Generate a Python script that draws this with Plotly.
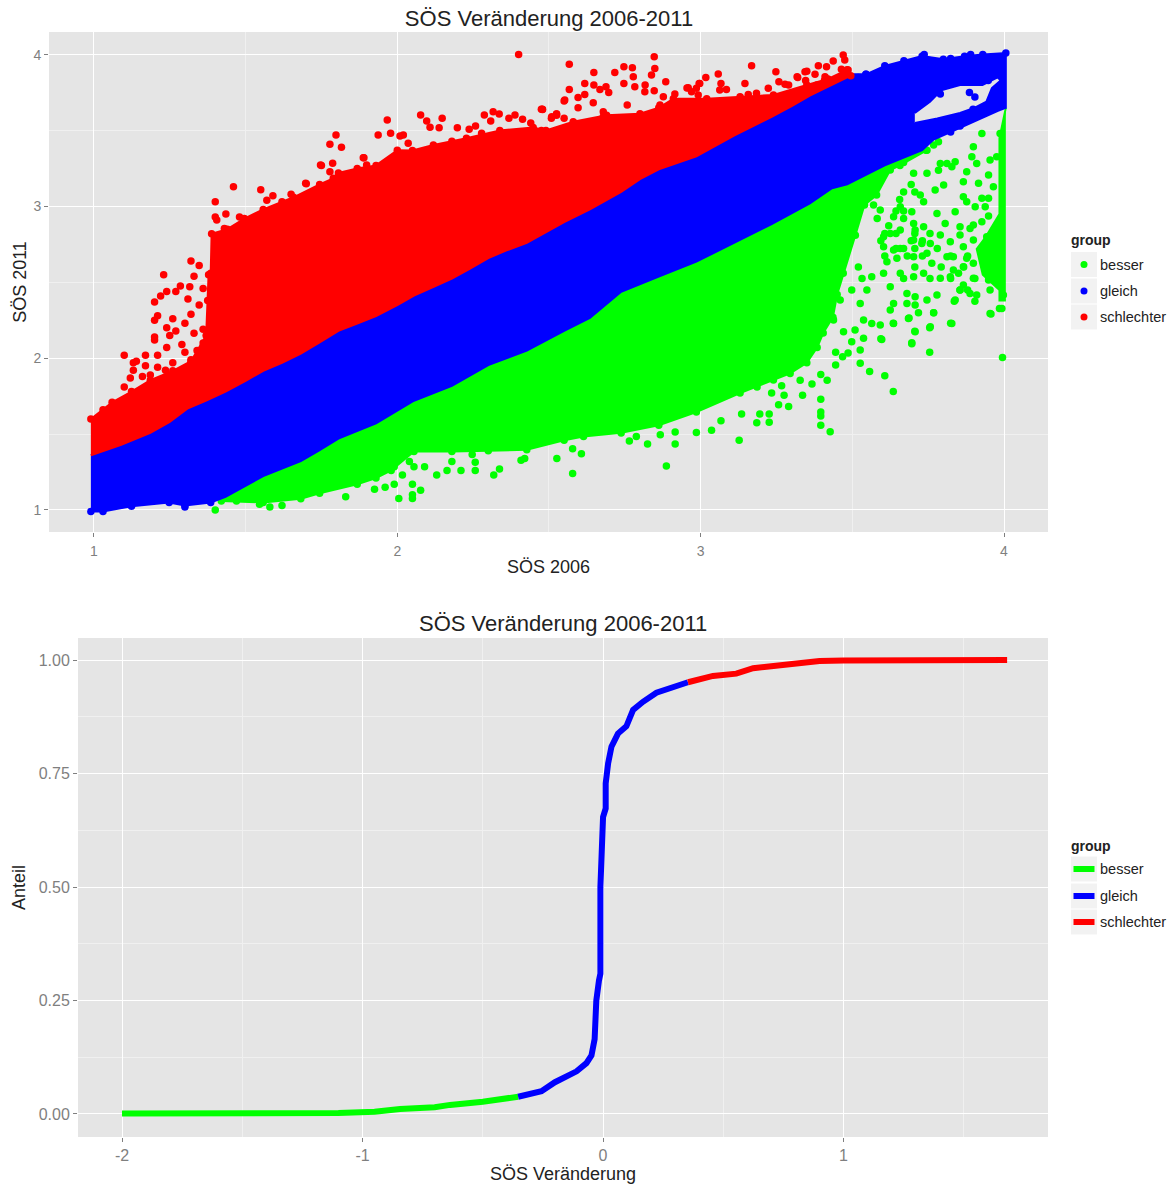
import plotly.graph_objects as go

TITEL = "SÖS Veränderung 2006-2011"
GRUPPEN = ["besser", "gleich", "schlechter"]
FARBEN = {"besser": "#00FF00", "gleich": "#0000FF", "schlechter": "#FF0000"}

# ---- upper panel: band edges (SÖS 2006, SÖS 2011) ----
schlechter_oben = [(0.99,1.60),(1.03,1.66),(1.06,1.71),(1.124,1.78),(1.186,1.855),(1.26,1.917),(1.32,1.98),(1.37,2.15),(1.375,2.38),(1.378,2.55),(1.385,2.56),(1.388,2.82),(1.44,2.85),(1.496,2.92),(1.558,2.98),(1.62,3.03),(1.658,3.06),(1.744,3.145),(1.789,3.185),(1.806,3.22),(1.868,3.25),(1.93,3.27),(2.0,3.37),(2.05,3.368),(2.119,3.405),(2.18,3.43),(2.228,3.449),(2.338,3.50),(2.448,3.52),(2.49,3.50),(2.58,3.558),(2.69,3.60),(2.80,3.61),(2.862,3.65),(2.91,3.71),(3.02,3.71),(3.13,3.723),(3.24,3.734),(3.35,3.80),(3.42,3.84),(3.483,3.90),(3.495,3.86)]
grenze_rot_blau = [(0.99,1.36),(1.09,1.43),(1.186,1.508),(1.25,1.58),(1.31,1.67),(1.37,1.72),(1.434,1.78),(1.50,1.85),(1.558,1.917),(1.62,1.97),(1.682,2.03),(1.74,2.10),(1.806,2.18),(1.87,2.23),(1.93,2.277),(2.00,2.35),(2.055,2.413),(2.12,2.47),(2.18,2.525),(2.24,2.59),(2.30,2.66),(2.36,2.71),(2.427,2.76),(2.49,2.83),(2.55,2.897),(2.635,2.98),(2.738,3.095),(2.80,3.18),(2.862,3.244),(2.986,3.33),(3.05,3.40),(3.11,3.467),(3.234,3.59),(3.30,3.66),(3.36,3.73),(3.483,3.85),(3.495,3.87)]
gleich_oben_rechts = [(3.545,3.87),(3.607,3.926),(3.67,3.96),(3.73,3.99),(3.80,3.97),(3.87,3.99),(3.93,4.0),(4.006,4.01)]
grenze_blau_gruen = [(0.99,0.99),(1.03,0.99),(1.124,1.025),(1.248,1.05),(1.30,1.03),(1.385,1.05),(1.434,1.087),(1.50,1.16),(1.558,1.223),(1.682,1.322),(1.74,1.39),(1.806,1.47),(1.93,1.57),(2.055,1.72),(2.18,1.818),(2.30,1.955),(2.427,2.05),(2.55,2.18),(2.635,2.265),(2.738,2.438),(2.862,2.537),(2.986,2.636),(3.11,2.76),(3.234,2.884),(3.36,3.02),(3.433,3.12),(3.483,3.145),(3.607,3.27),(3.73,3.37),(3.768,3.44),(3.855,3.517),(3.98,3.63),(4.006,3.65)]
gleich_loch = [(3.706,3.616),(3.756,3.69),(3.793,3.765),(3.855,3.80),(3.929,3.80),(3.979,3.85),(3.989,3.83),(3.96,3.78),(3.942,3.69),(3.904,3.65),(3.855,3.616),(3.78,3.58),(3.706,3.55)]
besser_oben = [(1.42,1.07),(1.50,1.16),(1.558,1.223),(1.682,1.322),(1.74,1.39),(1.806,1.47),(1.93,1.57),(2.055,1.72),(2.18,1.818),(2.30,1.955),(2.427,2.05),(2.55,2.18),(2.635,2.265),(2.738,2.438),(2.862,2.537),(2.986,2.636),(3.11,2.76),(3.234,2.884),(3.36,3.02),(3.433,3.12),(3.483,3.145),(3.607,3.27),(3.746,3.38)]
besser_unten = [(1.42,1.06),(1.558,1.05),(1.682,1.074),(1.744,1.11),(1.868,1.17),(1.93,1.21),(1.98,1.26),(2.055,1.385),(2.18,1.385),(2.30,1.39),(2.427,1.397),(2.55,1.459),(2.614,1.484),(2.738,1.508),(2.862,1.558),(2.986,1.645),(3.13,1.77),(3.186,1.81),(3.24,1.856),(3.295,1.90),(3.35,1.97),(3.384,2.07),(3.404,2.166),(3.436,2.27),(3.45,2.42),(3.47,2.56),(3.51,2.81),(3.54,3.01),(3.58,3.075),(3.625,3.24),(3.657,3.27),(3.746,3.37)]
besser_rand = [(4.006,3.65),(3.985,3.45),(3.985,2.95),(3.94,2.80),(3.91,2.72),(3.93,2.55),(3.985,2.45),(3.985,2.38),(4.006,2.38)]

# ---- upper panel: single points that stand apart from the bands ----
schlechter_punkte = [(1.10,2.02),(1.13,1.97),(1.14,1.98),(1.13,1.92),(1.12,1.87),(1.10,1.81),(1.17,2.02),(1.17,1.95),(1.16,1.88),(1.21,2.02),(1.20,2.12),(1.20,2.14),(1.20,2.25),(1.21,2.28),(1.20,2.37),(1.22,2.41),(1.24,2.44),(1.23,2.55),(1.27,2.44),(1.285,2.475),(1.316,2.47),(1.32,2.64),(1.347,2.61),(1.33,2.54),(1.36,2.46),(1.31,2.39),(1.347,2.35),(1.32,2.29),(1.26,2.26),(1.30,2.23),(1.24,2.20),(1.27,2.18),(1.25,2.15),(1.33,2.165),(1.36,2.19),(1.36,2.10),(1.29,2.09),(1.24,2.07),(1.30,2.04),(1.34,2.05),(1.32,1.99),(1.26,1.97),(1.236,1.92),(1.21,1.94),(1.186,1.89),
(1.40,3.03),(1.46,3.13),(1.55,3.11),(1.57,3.04),(1.59,3.07),(1.65,3.08),(1.40,2.93),(1.405,2.91),(1.435,2.95),(1.48,2.93),(1.43,2.855),(1.70,3.15),(1.75,3.27),(1.89,3.32),
(1.798,3.47),(1.778,3.409),(1.816,3.389),(1.967,3.569),(1.937,3.471),(1.978,3.482),(2.009,3.464),(2.02,3.47),(2.077,3.602),(2.097,3.563),(2.108,3.521),(2.138,3.519),(2.148,3.58),(2.198,3.519),(2.258,3.53),(2.237,3.508),(2.278,3.482),(2.287,3.602),(2.316,3.624),(2.336,3.609),(2.308,3.563),(2.368,3.58),(2.388,3.602),(2.478,3.64),(2.509,3.591),(2.525,3.609),(2.413,3.574),(1.888,3.321),(1.747,3.273),(1.787,3.284),(1.899,3.273),(1.698,3.152),(1.778,3.229),(2.036,3.416),
(2.40,4.0),(2.55,3.695),(2.475,3.50),(2.44,3.55),(2.475,3.64),(2.525,3.60),(2.55,3.58),(2.575,3.53),
(2.567,3.936),(2.847,3.986),(2.849,3.909),(2.838,3.865),(2.648,3.883),(2.717,3.883),(2.747,3.92),(2.775,3.914),(2.778,3.854),(2.747,3.81),(2.618,3.81),(2.648,3.80),(2.688,3.789),(2.668,3.771),(2.697,3.751),(2.783,3.789),(2.817,3.80),(2.885,3.821),(2.847,3.762),(2.567,3.771),(2.618,3.738),(2.596,3.718),(2.552,3.701),(2.646,3.683),(2.596,3.65),(2.479,3.639),(2.525,3.608),(2.758,3.668),(2.816,3.756),(2.877,3.723),(2.866,3.668),(2.915,3.74),(2.959,3.782),(2.997,3.81),(3.017,3.85),(3.058,3.872),(3.067,3.81),(3.063,3.767),(3.085,3.771),(3.168,3.927),(3.248,3.887),(3.146,3.81),(3.258,3.821),(3.318,3.854),(3.344,3.887),(3.388,3.927),(3.415,3.92),(3.437,3.958),(3.47,3.997),(3.475,3.964),(3.464,3.903),(3.486,3.898),(3.377,3.87),(3.41,3.854),(3.426,3.821),(3.223,3.778),(3.278,3.804),(3.184,3.745),(3.157,3.738),(2.986,3.778),(2.992,3.734),(2.97,3.755),(2.679,3.624),(2.679,3.591),(2.508,3.58),(2.58,3.547),(2.955,3.78),(2.995,3.81),(3.32,3.85),(3.35,3.89),(3.346,3.83),(3.29,3.80),(3.383,3.80),(3.408,3.83)]
gleich_punkte = [(1.30,1.02),(3.737,4.0),(3.545,3.87),(3.52,3.85),(3.79,3.74),(3.886,3.75),(3.948,3.83),(3.904,3.72),(3.824,3.975),(3.89,4.0),(3.71,3.72),(3.898,3.64),(3.855,3.53),(3.824,3.49),(3.706,3.91)]
besser_punkte = [(1.40,1.0),(1.58,1.02),(1.62,1.03),(1.546,1.037),(1.47,1.06),(1.83,1.087),(2.005,1.075),(2.05,1.075),(2.05,1.10),(2.077,1.13),(1.96,1.15),(1.99,1.17),(2.05,1.17),(1.925,1.136),(2.017,1.23),(2.055,1.285),(2.09,1.285),(2.13,1.23),(2.164,1.26),(2.21,1.26),(2.18,1.32),(2.257,1.26),(2.257,1.315),(2.247,1.365),(2.318,1.23),(2.337,1.27),(2.408,1.327),(2.42,1.34),(2.526,1.34),(2.578,1.404),(2.607,1.37),(2.578,1.24),(2.04,1.32),(1.99,1.285),
(2.887,1.29),(3.127,1.46),(2.825,1.434),(2.916,1.434),(2.765,1.454),(2.788,1.484),(2.867,1.496),(2.916,1.513),(2.986,1.51),(3.036,1.526),(3.067,1.588),(3.185,1.575),(3.226,1.578),(3.226,1.632),(3.195,1.632),(3.135,1.632),(3.257,1.694),(3.29,1.682),(3.396,1.558),(3.396,1.62),(3.396,1.645),(3.396,1.73),(3.427,1.516),(3.234,1.77),(3.275,1.756),(3.336,1.756),(3.267,1.818),(3.367,1.83),(3.417,1.855),(3.396,1.893),(3.328,1.855),(3.445,1.955),(3.526,1.967),(3.557,1.912),(3.607,1.885),(3.635,1.78),(3.526,2.054),(3.486,2.034),(3.468,2.01),(3.445,2.04),(3.696,2.096),(3.755,2.04),(3.995,2.004),(3.706,2.178),(3.755,2.2),(3.824,2.23),(3.635,2.23),(3.594,2.128),(3.954,2.294),(3.985,2.327),(3.768,2.30),(3.687,2.265),
(3.768,3.404),(3.784,3.426),(3.899,3.393),(3.894,3.327),(3.91,3.283),(3.954,3.305),(3.976,3.327),(3.927,3.481),(3.987,3.481),(3.812,3.283),(3.79,3.283),(3.839,3.294),(3.828,3.261),(3.784,3.239),(3.877,3.229),(3.866,3.163),(3.916,3.152),(3.949,3.207),(3.965,3.13),(3.801,3.141),(3.773,3.108),(3.746,3.218),(3.702,3.218),(3.866,3.064),(3.877,3.031),(3.927,3.053),(3.949,3.053),(3.905,2.998),(3.938,2.998),(3.839,2.965),(3.724,3.075),(3.735,3.031),(3.696,2.965),(3.779,2.954),(3.949,2.936),(3.927,2.899),(3.899,2.877),(3.888,2.855),(3.855,2.866),(3.806,2.888),(3.735,2.866),(3.707,2.844),(3.855,2.811),(3.79,2.811),(3.823,2.767),(3.899,2.778),(3.866,2.734),(3.943,2.80),(3.702,2.888),(3.636,2.932),(3.592,2.976),(3.658,2.998),(3.57,3.009),(3.625,2.822),(3.603,2.80),(3.658,2.844),(3.702,2.778),(3.757,2.756),(3.729,2.756),(3.658,2.723),(3.636,2.713),(3.812,2.669),(3.833,2.669),(3.877,2.658),(3.899,2.625),(3.866,2.603),(3.746,2.691),(3.702,2.669),(3.647,2.658),(3.603,2.734),(3.614,2.636),(3.943,2.592),(3.762,2.625),(3.833,2.581),(3.823,2.537),(3.85,2.559),(3.899,2.526),(3.949,2.515),(3.866,2.482),(3.855,2.449),(3.888,2.427),(3.91,2.416),(3.79,2.526),(3.735,2.559),(3.702,2.537),(3.658,2.559),(3.603,2.559),(3.564,2.537),(3.548,2.449),(3.625,2.471),(3.68,2.427),(3.707,2.405),(3.746,2.383),(3.779,2.416),(3.839,2.383),(3.707,2.35),(3.68,2.361),(3.636,2.361),(3.625,2.317),(3.718,2.30),(3.768,2.30),(3.957,2.291),(3.993,2.328),(3.998,2.416),(3.636,2.229),(3.685,2.262),(3.828,2.229),(3.707,2.174),(3.757,2.207),(3.597,2.124),(3.696,2.102),(3.592,2.218),(3.537,2.131),(3.509,2.185),(3.471,2.174),(3.498,2.109),(3.564,2.229),(3.537,2.251),(3.438,2.251),(3.46,2.383),(3.498,2.449),(3.526,2.361),
(3.836,2.376),(3.904,2.376),(3.855,2.45),(3.88,2.45),(3.954,2.45),(3.532,2.525),(3.669,2.525),(3.756,2.525),(3.824,2.525),(3.904,2.525),(3.52,2.60),(3.706,2.60),(3.793,2.60),(3.867,2.60),(3.607,2.674),(3.681,2.674),(3.731,2.674),(3.824,2.674),(3.88,2.674),(3.644,2.723),(3.669,2.723),(3.706,2.723),(3.78,2.723),(3.594,2.773),(3.694,2.773),(3.731,2.773),(3.607,2.822),(3.644,2.822),(3.706,2.822),(3.756,2.822),(3.62,2.872),(3.669,2.92),(3.582,2.92),(3.644,2.97),(3.669,2.97),(3.656,3.046),(3.669,3.095),(3.706,3.095),(3.694,3.145),(3.669,3.29),(3.706,3.37),(3.743,3.37)]

# ---- lower panel: cumulative share ----
besser_ver = [-2.0,-1.5,-1.1,-0.95,-0.844,-0.70,-0.636,-0.50,-0.353]
besser_anteil = [0.001,0.001,0.002,0.005,0.011,0.015,0.02,0.027,0.038]
gleich_ver = [-0.353,-0.256,-0.20,-0.11,-0.069,-0.048,-0.035,-0.028,-0.017,-0.011,-0.011,0.0,0.011,0.011,0.021,0.035,0.062,0.097,0.125,0.166,0.222,0.291,0.353]
gleich_anteil = [0.038,0.05,0.07,0.094,0.112,0.129,0.165,0.25,0.294,0.309,0.50,0.654,0.673,0.728,0.772,0.809,0.838,0.854,0.89,0.908,0.928,0.94,0.951]
schlechter_ver = [0.353,0.457,0.554,0.624,0.68,0.82,0.90,1.0,1.2,1.68]
schlechter_anteil = [0.951,0.965,0.97,0.982,0.985,0.993,0.998,0.999,1.0,1.0]

x1_ticks = [1, 2, 3, 4]
y1_ticks = [1, 2, 3, 4]
x2_ticks = [-2, -1, 0, 1]
x2_labels = ["-2", "-1", "0", "1"]
y2_ticks = [0, 0.25, 0.5, 0.75, 1]
y2_labels = ["0.00", "0.25", "0.50", "0.75", "1.00"]

W, H = 1174, 1184
def px(p): return p / W
def py(p): return 1 - p / H

def xs(*paths):
    out = []
    for i, p in enumerate(paths):
        if i: out.append(None)
        out += [a for a, _ in p]
    return out
def ys(*paths):
    out = []
    for i, p in enumerate(paths):
        if i: out.append(None)
        out += [b for _, b in p]
    return out

poly_rot = schlechter_oben + grenze_rot_blau[::-1]
poly_blau = grenze_rot_blau + gleich_oben_rechts + grenze_blau_gruen[::-1]
poly_gruen = besser_oben + besser_unten[::-1]

fig = go.Figure()
def band(name, paths, kanten, punkte):
    c = FARBEN[name]
    fig.add_trace(go.Scatter(x=xs(*paths), y=ys(*paths), mode="lines", fill="toself", fillcolor=c,
                             line=dict(color=c, width=2), name=name, legendgroup=name,
                             showlegend=False, hoverinfo="skip", xaxis="x", yaxis="y"))
    alle = kanten + punkte
    fig.add_trace(go.Scatter(x=[a for a, _ in alle], y=[b for _, b in alle], mode="markers",
                             marker=dict(color=c, size=7.5, line=dict(width=0)), name=name,
                             showlegend=False, xaxis="x", yaxis="y"))
band("besser", [poly_gruen, besser_rand], besser_unten, besser_punkte)
band("gleich", [poly_blau, gleich_loch[::-1]], gleich_oben_rechts + grenze_blau_gruen[:6], gleich_punkte)
band("schlechter", [poly_rot], schlechter_oben, schlechter_punkte)

for name, vx, vy in (("besser", besser_ver, besser_anteil), ("gleich", gleich_ver, gleich_anteil),
                     ("schlechter", schlechter_ver, schlechter_anteil)):
    fig.add_trace(go.Scatter(x=vx, y=vy, mode="lines", line=dict(color=FARBEN[name], width=6),
                             name=name, showlegend=False, xaxis="x2", yaxis="y2"))

grid = dict(showgrid=True, gridcolor="white", gridwidth=1.4, zeroline=False, ticks="outside",
            ticklen=4, tickwidth=1, tickcolor="#7F7F7F", showline=False, automargin=False,
            tickmode="array")
mg = dict(showgrid=True, gridcolor="#F0F0F0", gridwidth=0.7, ticks="")
AX_T = dict(size=18, color="#222222", family="Liberation Sans")

fig.update_layout(
    width=W, height=H, margin=dict(l=0, r=0, t=0, b=0), autosize=False,
    paper_bgcolor="white", plot_bgcolor="#E5E5E5",
    font=dict(family="Liberation Sans", color="#222222"),
    title=dict(text=TITEL, x=px(549), y=py(18), xanchor="center", yanchor="middle",
               xref="paper", yref="paper", font=dict(size=22, color="#222222")),
    xaxis=dict(grid, domain=[px(49), px(1048)], range=[0.852, 4.145], anchor="y",
               tickvals=x1_ticks, ticktext=[str(v) for v in x1_ticks],
               tickfont=dict(size=14, color="#7F7F7F"), ticklabelstandoff=2,
               minor=dict(mg, tickmode="linear", tick0=0.5, dtick=1),
               title=dict(text="SÖS 2006", font=AX_T, standoff=2)),
    yaxis=dict(grid, domain=[py(532), py(32)], range=[0.855, 4.149], anchor="x",
               tickvals=y1_ticks, ticktext=[str(v) for v in y1_ticks],
               tickfont=dict(size=14, color="#7F7F7F"),
               minor=dict(mg, tickmode="linear", tick0=0.5, dtick=1),
               title=dict(text="SÖS 2011", font=AX_T, standoff=2)),
    xaxis2=dict(grid, domain=[px(78), px(1048)], range=[-2.183, 1.85], anchor="y2",
                tickvals=x2_ticks, ticktext=x2_labels,
                tickfont=dict(size=16, color="#7F7F7F"),
                minor=dict(mg, tickmode="linear", tick0=0.5, dtick=1),
                title=dict(text="SÖS Veränderung", font=AX_T, standoff=0)),
    yaxis2=dict(grid, domain=[py(1137), py(638)], range=[-0.0507, 1.0485], anchor="x2",
                tickvals=y2_ticks, ticktext=y2_labels,
                tickfont=dict(size=16, color="#7F7F7F"),
                minor=dict(mg, tickmode="linear", tick0=0.125, dtick=0.25),
                title=dict(text="Anteil", font=AX_T, standoff=8)),
    showlegend=False,
)

def note(text, x, y, size, bold=False, anchor="left"):
    fig.add_annotation(text=f"<b>{text}</b>" if bold else text, x=px(x), y=py(y), xref="paper", yref="paper",
                       xanchor=anchor, yanchor="middle", showarrow=False,
                       font=dict(size=size, color="#222222"))

note(TITEL, 563, 624, 22, anchor="center")

for kopf_y, mitten, art in ((240, (264.5, 291, 317), "punkt"), (846, (869, 896, 922), "linie")):
    note("group", 1069, kopf_y, 14, bold=True)
    for name, m in zip(GRUPPEN, mitten):
        fig.add_shape(type="rect", xref="paper", yref="paper", x0=px(1071), x1=px(1097),
                      y0=py(m - 12.5), y1=py(m + 12.5), fillcolor="#F2F2F2", line=dict(width=0))
        if art == "punkt":
            fig.add_shape(type="circle", xref="paper", yref="paper", x0=px(1080.5), x1=px(1087.5),
                          y0=py(m - 3.5), y1=py(m + 3.5), fillcolor=FARBEN[name], line=dict(width=0))
        else:
            fig.add_shape(type="rect", xref="paper", yref="paper", x0=px(1073.5), x1=px(1094.5),
                          y0=py(m - 3), y1=py(m + 3), fillcolor=FARBEN[name], line=dict(width=0))
        note(name, 1098, m, 14.5)

fig.write_html("out.html", config={"displayModeBar": False},
               post_script="document.body.style.margin='0';document.documentElement.style.overflow='hidden';")
